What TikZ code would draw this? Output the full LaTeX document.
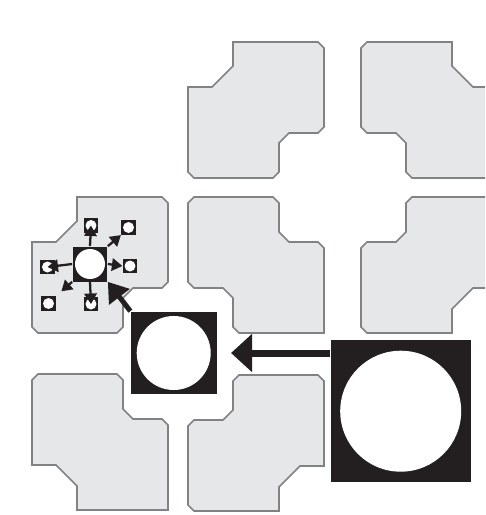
\documentclass[tikz,border=0pt]{standalone}
\usepackage{tikz}
\usetikzlibrary{arrows.meta}
\definecolor{inkblack}{HTML}{231F20}
\definecolor{tilegray}{HTML}{E6E7E8}
\definecolor{edgegray}{HTML}{808285}
% floor tile: x, y, mirror, first notch cut, second notch cut
\newcommand{\floortile}[5]{%
  \pgfmathsetmacro{\cuta}{#4>15 ? 0 : 6}%
  \pgfmathsetmacro{\cutb}{#5>15 ? 0 : 6}%
  \pgfmathsetmacro{\cutc}{#3<0 ? 0 : 6}%
  \begin{scope}[shift={(#1,#2)}, xscale=#3]
    \draw[tileshape] (45,\cuta) -- (45+\cuta,0) -- (130,0) -- (136,6) -- (136,91-\cutb) -- (136-\cutb,91)
      -- (91+#5,91) -- (91,91+#5) -- (91,136-\cutb) -- (91-\cutb,136) -- (\cutc,136) -- (0,136-\cutc)
      -- (0,45+\cuta) -- (\cuta,45) -- (45-#4,45) -- (45,45-#4) -- cycle;
  \end{scope}}

\begin{document}
\begin{tikzpicture}[x=0.02cm, y=-0.02cm,
  tileshape/.style={draw=edgegray, line width=0.9pt, fill=tilegray},
  cell/.style={rectangle, fill=inkblack, inner sep=0pt,
    path picture={\fill[white] (path picture bounding box.center) circle[radius=#1];}},
  move/.style={draw=inkblack, line width=1.3pt, -{Triangle[length=0.21cm, width=0.25cm]}},
]
  \clip (0,0) rectangle (485,515);

  % Tiles
  \floortile{188}{42}{1}{21}{10}
  \floortile{497}{42}{-1}{21}{10}
  \floortile{32}{197}{1}{21}{10}
  \floortile{324}{197}{-1}{10}{10}
  \floortile{361}{197}{1}{10}{21}
  \floortile{168}{374}{-1}{10}{21}
  \floortile{188}{375}{1}{10}{21}

  % Cells
  \node[cell=1.21cm, minimum width=2.8cm, minimum height=2.84cm] (bigcell) at (400.7,411.2) {};
  \node[cell=0.74cm, minimum width=1.72cm, minimum height=1.66cm] (midcell) at (173.7,353) {};
  \node[cell=0.3cm, minimum size=0.7cm] (smallcell) at (90,264) {};

  % Neighbours
  \node[cell=0.11cm, minimum size=0.29cm] (nup) at (91,225.5) {};
  \node[cell=0.11cm, minimum size=0.29cm] (nupright) at (128.5,227.5) {};
  \node[cell=0.11cm, minimum size=0.29cm] (nright) at (130,266) {};
  \node[cell=0.11cm, minimum size=0.29cm] (nleft) at (47.5,267) {};
  \node[cell=0.11cm, minimum size=0.29cm] (ndownleft) at (48.5,303.5) {};
  \node[cell=0.11cm, minimum size=0.29cm] (ndown) at (91,304) {};

  % Big moves
  \draw[draw=inkblack, line width=0.14cm, shorten >=0.28cm, -{Triangle[length=0.42cm, width=0.74cm]}]
    (bigcell.west |- midcell.east) -- (midcell.east);
  \draw[draw=inkblack, line width=0.1cm, -{Triangle[length=0.38cm, width=0.5cm]}]
    (midcell.north west) -- (smallcell.south east);

  % Small moves
  \draw[move] (smallcell.north) -- (nup.center);
  \draw[move] (smallcell.north east) -- (nupright.south west);
  \draw[move] (smallcell.east) -- (nright.west);
  \draw[move] (smallcell.west) -- (nleft.center);
  \draw[move, shorten >=0.14cm] (smallcell.south west) -- (ndownleft.north east);
  \draw[move] (smallcell.south) -- (ndown.center);
\end{tikzpicture}
\end{document}
